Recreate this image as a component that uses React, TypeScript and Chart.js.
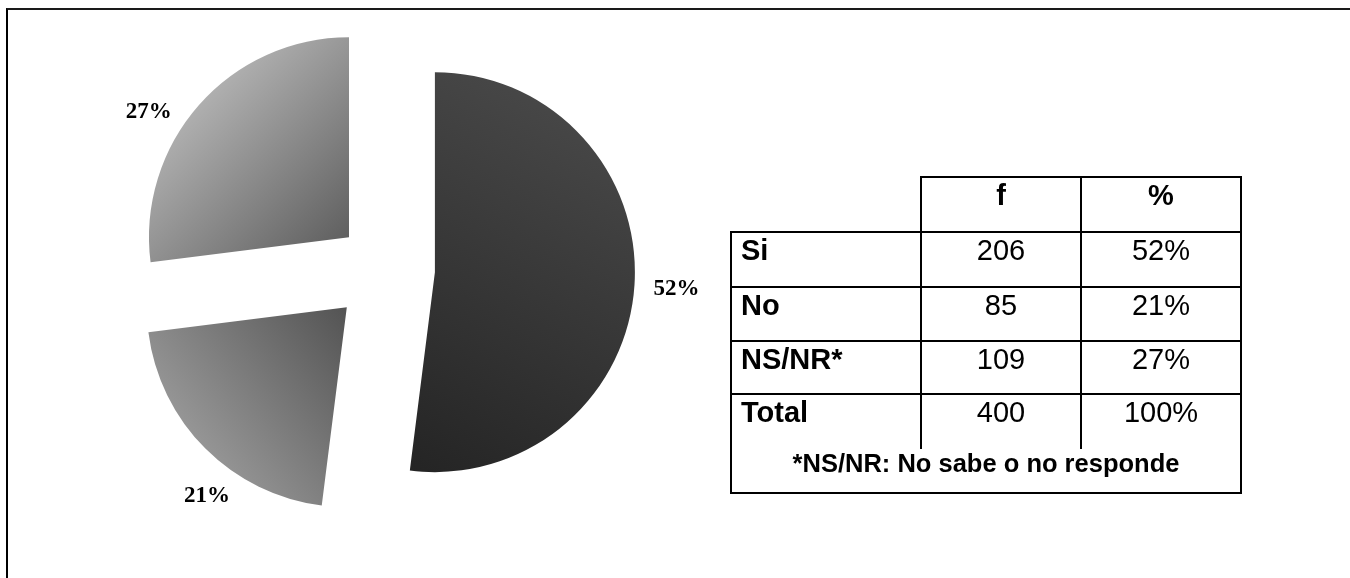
import React, { useEffect, useRef } from "react";
import { Chart, registerables } from "chart.js";

Chart.register(...registerables);

// ---------- data ----------
const categories = ["Si", "No", "NS/NR*"];
const frequencies = [206, 85, 109];
const pieValues = [52, 21, 27];
const percentLabels = ["52%", "21%", "27%"];
const totalLabel = "Total";
const totalFrequency = 400;
const totalPercent = "100%";
const tableHeaders = ["f", "%"];
const footnote = "*NS/NR: No sabe o no responde";

// ---------- styles ----------
const sliceLight = ["#484848", "#a8a8a8", "#d0d0d0"];
const sliceDark = ["#242424", "#4c4c4c", "#5a5a5a"];
// gradient start (light) / end (dark) points, in units of radius, relative to slice apex
const gradientVectors = [
  [0.8, -0.8, -0.15, 1.0],
  [-1.0, 0.8, 0.1, -0.05],
  [-1.0, -1.0, 0.05, 0.05],
];
const explodePx = [50, 54, 48];
const labelNudgeDeg = [0, -6.7, -7.4];
const labelDist = [292, 287, 285];
const pieRadius = 200;

const explodePlugin = {
  id: "explodeGradient",
  beforeDatasetDraw(chart: any, args: any) {
    const ctx = chart.ctx;
    const meta = args.meta;
    meta.data.forEach((arc: any, i: number) => {
      const p = arc.getProps(["x", "y", "startAngle", "endAngle", "outerRadius"], true);
      const r = p.outerRadius;
      const mid = (p.startAngle + p.endAngle) / 2;
      const dx = Math.cos(mid) * explodePx[i];
      const dy = Math.sin(mid) * explodePx[i];
      const g = gradientVectors[i];
      const grad = ctx.createLinearGradient(p.x + g[0] * r, p.y + g[1] * r, p.x + g[2] * r, p.y + g[3] * r);
      grad.addColorStop(0, sliceLight[i]);
      grad.addColorStop(1, sliceDark[i]);
      arc.options = Object.assign({}, arc.options, { backgroundColor: grad, borderWidth: 0 });
      ctx.save();
      ctx.translate(dx, dy);
      arc.draw(ctx);
      ctx.restore();
    });
    return false;
  },
  afterDatasetsDraw(chart: any) {
    const ctx = chart.ctx;
    const meta = chart.getDatasetMeta(0);
    ctx.save();
    ctx.font = 'bold 23px "Liberation Serif", "Times New Roman", serif';
    ctx.fillStyle = "#000";
    ctx.textAlign = "center";
    ctx.textBaseline = "alphabetic";
    meta.data.forEach((arc: any, i: number) => {
      const p = arc.getProps(["x", "y", "startAngle", "endAngle"], true);
      const mid = (p.startAngle + p.endAngle) / 2 + (labelNudgeDeg[i] * Math.PI) / 180;
      const lx = p.x + Math.cos(mid) * labelDist[i];
      const ly = p.y + Math.sin(mid) * labelDist[i];
      ctx.fillText(percentLabels[i], lx, ly + 8);
    });
    ctx.restore();
  },
};

// table geometry
const TB = {
  left: 731,
  c1: 921,
  c2: 1081,
  right: 1241,
  headTop: 177,
  rowTops: [232, 287, 341, 394],
  bottom: 493,
  dividerBottom: 448,
};
const tableFont = '"Liberation Sans", Arial, Helvetica, sans-serif';
const cellFontSize = 29;

function Line({ x1, y1, x2, y2 }: { x1: number; y1: number; x2: number; y2: number }) {
  const vertical = x1 === x2;
  const style: React.CSSProperties = vertical
    ? { position: "absolute", left: x1 - 1, top: y1 - 1, width: 2, height: y2 - y1 + 2, background: "#000" }
    : { position: "absolute", left: x1 - 1, top: y1 - 1, width: x2 - x1 + 2, height: 2, background: "#000" };
  return <div style={style} />;
}

function Cell({ text, x, w, top, bold, align }: { text: string; x: number; w: number; top: number; bold?: boolean; align: "left" | "center" }) {
  // keep baseline at top + 29
  const fs = cellFontSize;
  const baselineOffset = (fs - 1.117 * fs) / 2 + 0.905 * fs;
  return (
    <div
      style={{
        position: "absolute",
        left: x,
        width: w,
        top: top + 29 - baselineOffset,
        height: fs,
        lineHeight: fs + "px",
        fontSize: fs,
        fontFamily: tableFont,
        fontWeight: bold ? 700 : 400,
        textAlign: align,
        color: "#000",
        whiteSpace: "nowrap",
      }}
    >
      {text}
    </div>
  );
}

function DataTable() {
  const rows = categories.map((c, i) => ({ label: c, f: String(frequencies[i]), p: percentLabels[i] }));
  rows.push({ label: totalLabel, f: String(totalFrequency), p: totalPercent });
  const lines: any[] = [];
  lines.push(<Line key="ht" x1={TB.c1} y1={TB.headTop} x2={TB.right} y2={TB.headTop} />);
  TB.rowTops.forEach((y, i) => lines.push(<Line key={"h" + i} x1={TB.left} y1={y} x2={TB.right} y2={y} />));
  lines.push(<Line key="hb" x1={TB.left} y1={TB.bottom} x2={TB.right} y2={TB.bottom} />);
  lines.push(<Line key="vl" x1={TB.left} y1={TB.rowTops[0]} x2={TB.left} y2={TB.bottom} />);
  lines.push(<Line key="vr" x1={TB.right} y1={TB.headTop} x2={TB.right} y2={TB.bottom} />);
  lines.push(<Line key="v1" x1={TB.c1} y1={TB.headTop} x2={TB.c1} y2={TB.dividerBottom} />);
  lines.push(<Line key="v2" x1={TB.c2} y1={TB.headTop} x2={TB.c2} y2={TB.dividerBottom} />);
  return (
    <>
      {lines}
      <Cell text={tableHeaders[0]} x={TB.c1} w={TB.c2 - TB.c1} top={TB.headTop} bold align="center" />
      <Cell text={tableHeaders[1]} x={TB.c2} w={TB.right - TB.c2} top={TB.headTop} bold align="center" />
      {rows.map((r, i) => (
        <React.Fragment key={i}>
          <Cell text={r.label} x={TB.left + 10} w={TB.c1 - TB.left - 10} top={TB.rowTops[i]} bold align="left" />
          <Cell text={r.f} x={TB.c1} w={TB.c2 - TB.c1} top={TB.rowTops[i]} align="center" />
          <Cell text={r.p} x={TB.c2} w={TB.right - TB.c2} top={TB.rowTops[i]} align="center" />
        </React.Fragment>
      ))}
      <div
        style={{
          position: "absolute",
          left: TB.left,
          width: TB.right - TB.left,
          top: 451,
          height: 25,
          lineHeight: "25px",
          fontSize: 25.5,
          fontWeight: 700,
          fontFamily: tableFont,
          textAlign: "center",
          color: "#000",
          whiteSpace: "nowrap",
        }}
      >
        {footnote}
      </div>
    </>
  );
}

export default function App() {
  const canvasRef = useRef<HTMLCanvasElement | null>(null);

  useEffect(() => {
    if (!canvasRef.current) return;
    const chart = new Chart(canvasRef.current, {
      type: "pie",
      data: {
        labels: categories,
        datasets: [
          {
            data: pieValues,
            backgroundColor: sliceDark,
            borderWidth: 0,
            hoverOffset: 0,
            offset: 0,
            clip: false as any,
          },
        ],
      },
      options: {
        responsive: false,
        animation: false,
        events: [],
        radius: pieRadius,
        rotation: 0,
        layout: { padding: 0 },
        plugins: {
          legend: { display: false },
          tooltip: { enabled: false },
          title: { display: false },
        },
      } as any,
      plugins: [explodePlugin],
    });
    return () => chart.destroy();
  }, []);

  return (
    <div style={{ position: "absolute", left: 0, top: 0, width: 1350, height: 578, background: "#fff", overflow: "hidden" }}>
      <div
        style={{
          position: "absolute",
          left: 6,
          top: 8,
          width: 1400,
          height: 600,
          borderTop: "2px solid #1a1a1a",
          borderLeft: "2px solid #000",
        }}
      />
      <canvas ref={canvasRef} width={770} height={538} style={{ position: "absolute", left: 0, top: 0, width: 770, height: 538 }} />
      <DataTable />
    </div>
  );
}
